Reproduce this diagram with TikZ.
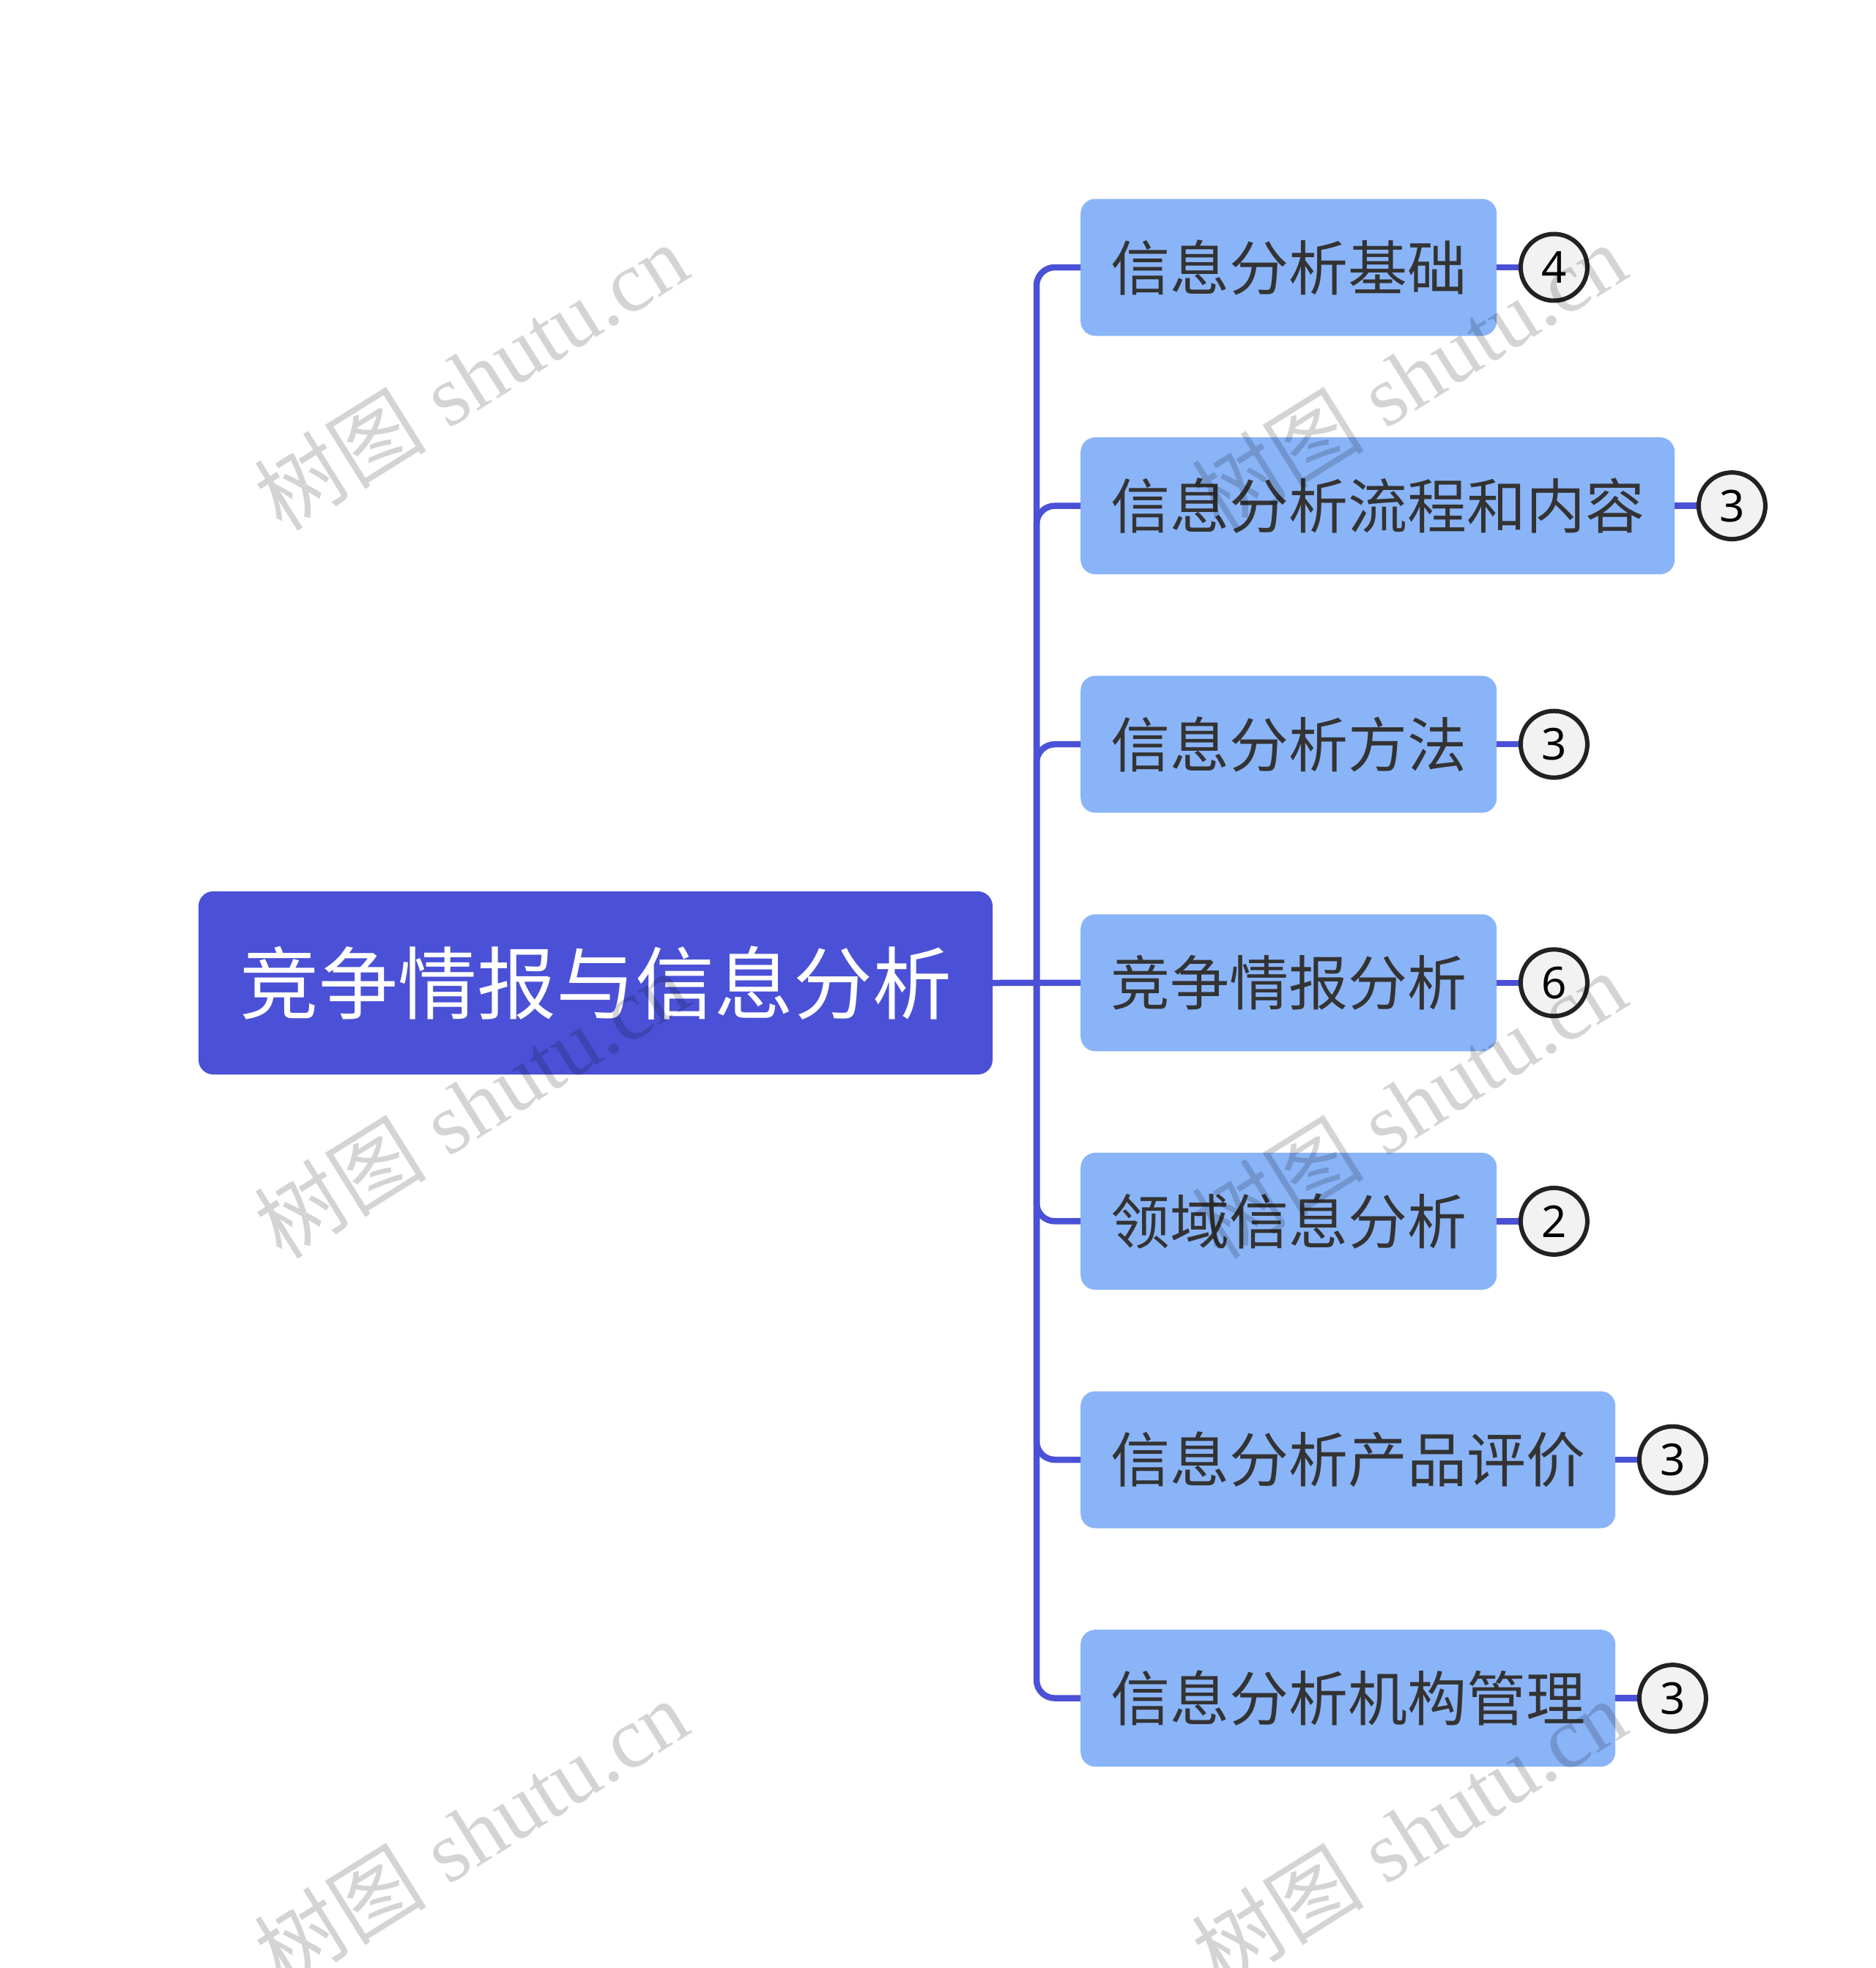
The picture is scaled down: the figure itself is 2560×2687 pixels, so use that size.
\documentclass[tikz,border=0pt]{standalone}
\usepackage{fontspec}
\setmainfont{Noto Sans}
\newfontfamily\cjk{Noto Sans CJK SC}
\newfontfamily\wmserif{Liberation Serif}
\definecolor{rootblue}{RGB}{74,81,214}
\definecolor{childblue}{RGB}{138,180,248}
\definecolor{txtc}{RGB}{51,51,51}
\definecolor{badgefill}{RGB}{242,242,242}
\definecolor{badgeline}{RGB}{34,34,34}
\begin{document}
\begin{tikzpicture}[x=1pt,y=1pt,
 rootbox/.style={fill=rootblue, rounded corners=20pt, minimum width=1084pt, minimum height=250pt, text=white, font=\cjk\fontsize{108}{130}\selectfont, inner sep=0pt},
 childbox/.style={fill=childblue, rounded corners=20pt, minimum height=187pt, text=txtc, font=\cjk\fontsize{81}{97}\selectfont, inner xsep=41pt, inner ysep=0pt, anchor=west},
 badge/.style={circle, draw=badgeline, line width=6pt, fill=badgefill, minimum size=91pt, inner sep=0pt, font=\fontsize{60}{72}\selectfont, text=black},
 conn/.style={draw=rootblue, line width=8.5pt},
 wm/.style={rotate=32, opacity=0.17, text=black, font=\fontsize{118}{140}\selectfont, inner sep=0pt}
]
\useasboundingbox (0,0) rectangle (2560,-2687);
\fill[white] (0,0) rectangle (2560,-2687);

\node[rootbox] (root) at (813,-1342) {竞争情报与信息分析};

\node[childbox] (c1) at (1475,-365) {信息分析基础};
\node[childbox] (c2) at (1475,-690.6) {信息分析流程和内容};
\node[childbox] (c3) at (1475,-1016.2) {信息分析方法};
\node[childbox] (c4) at (1475,-1341.8) {竞争情报分析};
\node[childbox] (c5) at (1475,-1667.4) {领域信息分析};
\node[childbox] (c6) at (1475,-1993) {信息分析产品评价};
\node[childbox] (c7) at (1475,-2318.6) {信息分析机构管理};

\coordinate (tr) at (1415,-1342);
\draw[conn] (root.east) -- (c4.west);
\foreach \i in {1,2,3,5,6,7}{
  \draw[conn, rounded corners=25pt] (tr) |- (c\i.west);
}

\node[badge] (b1) at ([xshift=78pt]c1.east) {4};
\node[badge] (b2) at ([xshift=78pt]c2.east) {3};
\node[badge] (b3) at ([xshift=78pt]c3.east) {3};
\node[badge] (b4) at ([xshift=78pt]c4.east) {6};
\node[badge] (b5) at ([xshift=78pt]c5.east) {2};
\node[badge] (b6) at ([xshift=78pt]c6.east) {3};
\node[badge] (b7) at ([xshift=78pt]c7.east) {3};
\foreach \i in {1,...,7}{
  \draw[conn] (c\i.east) -- (b\i.west);
}

\foreach \x/\y [count=\k] in {643/514, 1923/514, 643/1508, 1923/1508, 643/2502, 1923/2502}{
  \node[wm] (w\k) at (\x,-\y) {{\cjk 树图} {\wmserif shutu.cn}};
}
\end{tikzpicture}
\end{document}
